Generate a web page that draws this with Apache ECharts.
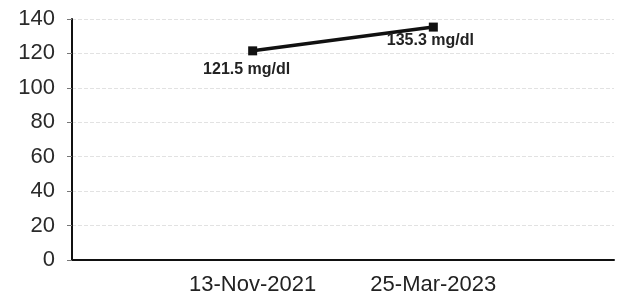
<!DOCTYPE html>
<html>
<head>
<meta charset="utf-8">
<script src="https://cdn.jsdelivr.net/npm/echarts@6/dist/echarts.min.js"></script>
<style>html,body{margin:0;padding:0;background:#fff;}#c{width:617px;height:302px;}</style>
</head>
<body>
<div id="c"></div>
<script>
var categories = ['', '13-Nov-2021', '25-Mar-2023', ''];
var values = [null, 121.5, 135.3, null];
var labels = ['', '121.5 mg/dl', '135.3 mg/dl', ''];
var yTicks = [0, 20, 40, 60, 80, 100, 120, 140];

var chart = echarts.init(document.getElementById('c'), null, {renderer: 'canvas'});
var labelDist = [0, 6, 1, 0];
var labelOffX = [0, -6, -3, 0];
chart.setOption({
  backgroundColor: '#ffffff',
  animation: false,
  grid: {left: 72, right: 2, top: 19, bottom: 42},
  xAxis: {
    type: 'category',
    data: categories,
    boundaryGap: false,
    axisLine: {lineStyle: {color: '#111', width: 2}},
    axisTick: {show: false},
    axisLabel: {color: '#222', fontSize: 22, fontFamily: 'Liberation Sans, Arial, sans-serif', margin: 14, interval: 0},
    splitLine: {show: false}
  },
  yAxis: {
    type: 'value',
    min: yTicks[0],
    max: yTicks[yTicks.length - 1],
    interval: 20,
    axisLine: {show: true, lineStyle: {color: '#111', width: 2}},
    axisTick: {show: true, length: 5, lineStyle: {color: '#777', width: 1}},
    axisLabel: {color: '#2a2a2a', fontSize: 22, fontFamily: 'Liberation Sans, Arial, sans-serif', margin: 17},
    splitLine: {show: true, lineStyle: {color: '#e2e2e2', width: 1, type: 'dashed'}}
  },
  series: [{
    type: 'line',
    data: values.map(function (v, i) {
      return {
        value: v,
        label: {show: v !== null, position: 'bottom', distance: labelDist[i], offset: [labelOffX[i], 0], formatter: labels[i]}
      };
    }),
    connectNulls: false,
    symbol: 'rect',
    symbolSize: 9,
    itemStyle: {color: '#111'},
    lineStyle: {color: '#111', width: 3.5},
    label: {color: '#222', fontSize: 16, fontWeight: 'bold', fontFamily: 'Liberation Sans, Arial, sans-serif'}
  }]
});
</script>
</body>
</html>
